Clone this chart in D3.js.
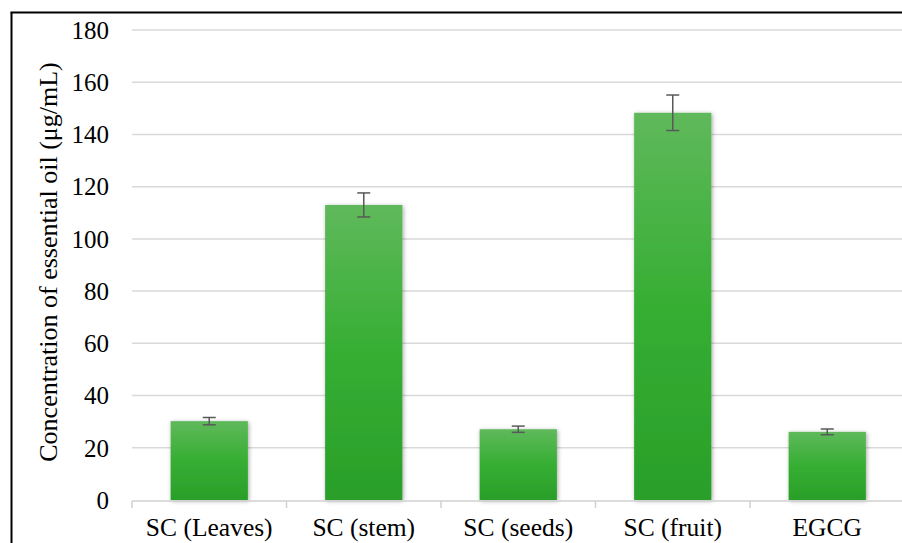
<!DOCTYPE html>
<html>
<head>
<meta charset="utf-8">
<script src="https://cdn.jsdelivr.net/npm/d3@7"></script>
<style>
  html, body { margin: 0; padding: 0; background: #fff; }
  svg { display: block; }
</style>
</head>
<body>
<svg id="chart" width="902" height="543"></svg>
<script>
const categories = ["SC (Leaves)", "SC (stem)", "SC (seeds)", "SC (fruit)", "EGCG"];
const values = [30.2, 113.0, 27.1, 148.3, 26.1];
const errors = [1.4, 4.6, 1.2, 6.8, 1.1];
const yTicks = [0, 20, 40, 60, 80, 100, 120, 140, 160, 180];
const yTitle = "Concentration of essential oil (μg/mL)";

const FONT = '"Liberation Serif"';
const svg = d3.select("#chart");
const W = 902, H = 543;
const plot = { left: 132, right: 904.5, top: 30, bottom: 500 };

const defs = svg.append("defs");
const grad = defs.append("linearGradient").attr("id", "barGrad")
  .attr("x1", 0).attr("y1", 0).attr("x2", 0).attr("y2", 1);
grad.append("stop").attr("offset", "0%").attr("stop-color", "#5fb95b");
grad.append("stop").attr("offset", "50%").attr("stop-color", "#36ae33");
grad.append("stop").attr("offset", "100%").attr("stop-color", "#2a9f29");
const filt = defs.append("filter").attr("id", "shadow")
  .attr("x", "-20%").attr("y", "-20%").attr("width", "140%").attr("height", "140%");
filt.append("feDropShadow").attr("dx", 1).attr("dy", 1).attr("stdDeviation", 2.2)
  .attr("flood-color", "#000").attr("flood-opacity", 0.35);

// frame
svg.append("line").attr("x1", 11.5).attr("x2", 11.5).attr("y1", 12.5).attr("y2", H + 2)
  .attr("stroke", "#000").attr("stroke-width", 2);
svg.append("line").attr("x1", 10.5).attr("x2", W + 2).attr("y1", 12.5).attr("y2", 12.5)
  .attr("stroke", "#000").attr("stroke-width", 2);

const y = d3.scaleLinear().domain([0, 180]).range([plot.bottom, plot.top]);
const x = d3.scaleBand().domain(categories).range([plot.left, plot.right])
  .paddingInner(0.5).paddingOuter(0.25);

// gridlines
svg.append("g").selectAll("line").data(yTicks.filter(d => d > 0)).join("line")
  .attr("x1", plot.left).attr("x2", W + 5)
  .attr("y1", d => y(d)).attr("y2", d => y(d))
  .attr("stroke", "#d9d9d9").attr("stroke-width", 1.5);

// y tick labels
svg.append("g").selectAll("text").data(yTicks).join("text")
  .style("font-family", FONT)
  .attr("x", 109).attr("y", d => y(d)).attr("dy", "0.35em")
  .attr("text-anchor", "end").attr("font-size", 25).attr("fill", "#000").text(d => d);

// y title
svg.append("text").attr("transform", `translate(57,262) rotate(-90)`)
  .style("font-family", FONT)
  .attr("text-anchor", "middle").attr("font-size", 26).attr("fill", "#000").text(yTitle);

// bars
const data = categories.map((c, i) => ({ c, v: values[i], e: errors[i] }));
svg.append("g").selectAll("rect").data(data).join("rect")
  .attr("x", d => x(d.c)).attr("width", x.bandwidth())
  .attr("y", d => y(d.v)).attr("height", d => y(0) - y(d.v))
  .attr("fill", "url(#barGrad)").attr("filter", "url(#shadow)");

// x axis line and ticks
const step = x.step();
svg.append("line").attr("x1", plot.left).attr("x2", W + 5)
  .attr("y1", 501).attr("y2", 501).attr("stroke", "#d0d0d0").attr("stroke-width", 1.5);
const tickXs = d3.range(categories.length + 1).map(i => plot.left + i * step);
svg.append("g").selectAll("line").data(tickXs).join("line")
  .attr("x1", d => d).attr("x2", d => d).attr("y1", 501).attr("y2", 508)
  .attr("stroke", "#d0d0d0").attr("stroke-width", 1.5);

// x labels
svg.append("g").selectAll("text").data(categories).join("text")
  .style("font-family", FONT)
  .attr("x", d => x(d) + x.bandwidth() / 2).attr("y", 536)
  .attr("text-anchor", "middle").attr("font-size", 25.5).attr("fill", "#000").text(d => d);

// error bars
const eb = svg.append("g").attr("stroke", "#595959").attr("stroke-width", 1.5).attr("fill", "none");
data.forEach(d => {
  const cx = x(d.c) + x.bandwidth() / 2;
  eb.append("line").attr("x1", cx).attr("x2", cx).attr("y1", y(d.v + d.e)).attr("y2", y(d.v - d.e));
  eb.append("line").attr("x1", cx - 6.5).attr("x2", cx + 6.5).attr("y1", y(d.v + d.e)).attr("y2", y(d.v + d.e));
  eb.append("line").attr("x1", cx - 6.5).attr("x2", cx + 6.5).attr("y1", y(d.v - d.e)).attr("y2", y(d.v - d.e));
});
</script>
</body>
</html>
